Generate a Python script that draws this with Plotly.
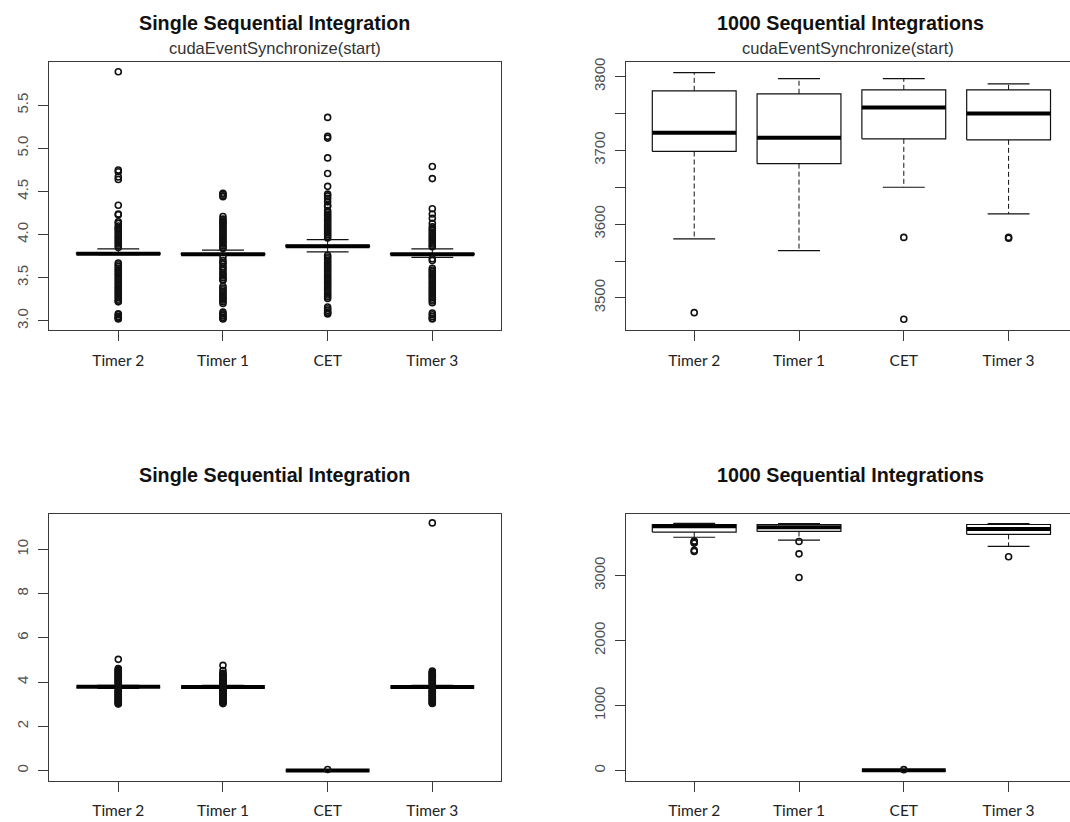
import plotly.graph_objects as go

categories = ["Timer 2", "Timer 1", "CET", "Timer 3"]

# ---- Single Sequential Integration, cudaEventSynchronize(start) ----
a_lower  = [3.768, 3.765, 3.800, 3.735]
a_q1     = [3.772, 3.768, 3.858, 3.768]
a_median = [3.777, 3.773, 3.865, 3.773]
a_q3     = [3.785, 3.780, 3.875, 3.780]
a_upper  = [3.835, 3.820, 3.942, 3.835]
a_out_timer2 = [5.89, 4.75, 4.73, 4.67, 4.64, 4.34, 4.24, 4.23, 4.15, 4.13, 4.10, 4.08,
                4.07, 4.05, 4.03, 4.01, 3.99, 3.97, 3.95, 3.93, 3.91, 3.89, 3.87, 3.85,
                3.67, 3.65, 3.63, 3.61, 3.59, 3.57, 3.55, 3.53, 3.51, 3.49, 3.47, 3.45,
                3.43, 3.41, 3.39, 3.37, 3.35, 3.33, 3.31, 3.29, 3.27, 3.25, 3.23, 3.22,
                3.08, 3.07, 3.05, 3.04, 3.03, 3.02]
a_out_timer1 = [4.48, 4.47, 4.45, 4.44, 4.21, 4.18, 4.16, 4.15, 4.13, 4.11, 4.09, 4.07,
                4.05, 4.03, 4.01, 3.99, 3.97, 3.95, 3.93, 3.91, 3.89, 3.87, 3.85, 3.84,
                3.74, 3.70, 3.68, 3.66, 3.63, 3.61, 3.59, 3.56, 3.54, 3.52, 3.50, 3.48,
                3.47, 3.40, 3.38, 3.36, 3.34, 3.32, 3.30, 3.28, 3.26, 3.24, 3.22, 3.20,
                3.10, 3.08, 3.06, 3.04, 3.03, 3.02]
a_out_cet = [5.36, 5.14, 5.12, 4.89, 4.71, 4.56, 4.47, 4.45, 4.42, 4.38, 4.34, 4.33,
             4.28, 4.26, 4.24, 4.22, 4.20, 4.18, 4.16, 4.14, 4.12, 4.10, 4.08, 4.06,
             4.04, 4.02, 4.00, 3.98, 3.96, 3.76, 3.74, 3.72, 3.70, 3.68, 3.66, 3.64,
             3.62, 3.60, 3.58, 3.56, 3.54, 3.52, 3.50, 3.48, 3.46, 3.44, 3.42, 3.40,
             3.38, 3.36, 3.34, 3.32, 3.30, 3.28, 3.26, 3.16, 3.14, 3.12, 3.10, 3.09, 3.08]
a_out_timer3 = [4.79, 4.65, 4.30, 4.24, 4.19, 4.13, 4.09, 4.07, 4.05, 4.03, 4.01, 3.99,
                3.97, 3.95, 3.93, 3.91, 3.89, 3.87, 3.86, 3.72, 3.70, 3.61, 3.59, 3.57,
                3.55, 3.53, 3.51, 3.49, 3.47, 3.45, 3.43, 3.41, 3.39, 3.37, 3.35, 3.33,
                3.31, 3.29, 3.27, 3.25, 3.23, 3.21, 3.09, 3.07, 3.05, 3.03, 3.02]

# ---- 1000 Sequential Integrations, cudaEventSynchronize(start) ----
b_lower  = [3580, 3564, 3650, 3614]
b_q1     = [3698.5, 3682, 3715.6, 3714.3]
b_median = [3724, 3717, 3758, 3750]
b_q3     = [3780.7, 3776.7, 3782, 3782]
b_upper  = [3805.4, 3797.3, 3797.3, 3790.2]
b_out_timer2 = [3480]
b_out_timer1 = []
b_out_cet = [3582, 3471]
b_out_timer3 = [3582, 3581]

# ---- Single Sequential Integration ----
c_lower  = [3.72, 3.72, 0.000, 3.72]
c_q1     = [3.77, 3.77, 0.005, 3.77]
c_median = [3.79, 3.78, 0.010, 3.78]
c_q3     = [3.80, 3.80, 0.015, 3.80]
c_upper  = [3.86, 3.85, 0.020, 3.85]
c_out_timer2 = [5.03, 4.62, 4.58, 4.54, 4.50, 4.46, 4.42, 4.38, 4.34, 4.30, 4.26, 4.22,
                4.18, 4.14, 4.10, 4.06, 4.02, 3.98, 3.94, 3.90, 3.66, 3.62, 3.58, 3.54,
                3.50, 3.46, 3.42, 3.38, 3.34, 3.30, 3.26, 3.22, 3.18, 3.14, 3.10, 3.06,
                3.03, 3.01]
c_out_timer1 = [4.76, 4.52, 4.40, 4.36, 4.32, 4.28, 4.24, 4.20, 4.16, 4.12, 4.08, 4.04,
                4.00, 3.96, 3.92, 3.88, 3.70, 3.66, 3.62, 3.58, 3.54, 3.50, 3.46, 3.42,
                3.38, 3.34, 3.30, 3.26, 3.22, 3.18, 3.14, 3.10, 3.06, 3.03]
c_out_cet = [0.05]
c_out_timer3 = [11.2, 4.50, 4.46, 4.42, 4.38, 4.34, 4.30, 4.26, 4.22, 4.18, 4.14, 4.10,
                4.06, 4.02, 3.98, 3.94, 3.90, 3.66, 3.62, 3.58, 3.54, 3.50, 3.46, 3.42,
                3.38, 3.34, 3.30, 3.26, 3.22, 3.18, 3.14, 3.10, 3.06, 3.04]

# ---- 1000 Sequential Integrations ----
d_lower  = [3590, 3545, 0, 3450]
d_q1     = [3670, 3679, 2, 3635]
d_median = [3758, 3742, 5, 3716]
d_q3     = [3786, 3786, 8, 3786]
d_upper  = [3805, 3801, 12, 3800]
d_out_timer2 = [3530, 3520, 3510, 3500, 3390, 3370]
d_out_timer1 = [3525, 3335, 2970]
d_out_cet = [15]
d_out_timer3 = [3290]

a_ticks = [3.0, 3.5, 4.0, 4.5, 5.0, 5.5]
a_ticktext = ["3.0", "3.5", "4.0", "4.5", "5.0", "5.5"]
b_ticks = [3500, 3550, 3600, 3650, 3700, 3750, 3800]
b_ticktext = ["3500", "", "3600", "", "3700", "", "3800"]
c_ticks = [0, 2, 4, 6, 8, 10]
c_ticktext = ["0", "2", "4", "6", "8", "10"]
d_ticks = [0, 1000, 2000, 3000]
d_ticktext = ["0", "1000", "2000", "3000"]

W, H = 1070, 822
BOX_HALF = 0.4
CAP_HALF = 0.2
INK = "#111111"
FRAME = "#3a3a3a"
TITLE_FONT = "Liberation Sans, Arial, sans-serif"
CAT_FONT = "Lato, Open Sans, sans-serif"

fig = go.Figure()


def add_boxplot(xa, ya, lower, q1, med, q3, upper, outliers):
    box_x, box_y = [], []
    wh_x, wh_y = [], []
    med_x, med_y = [], []
    out_x, out_y = [], []
    for i in range(len(categories)):
        p = i + 1
        # box outline
        box_x += [p - BOX_HALF, p + BOX_HALF, p + BOX_HALF, p - BOX_HALF, p - BOX_HALF, None]
        box_y += [q1[i], q1[i], q3[i], q3[i], q1[i], None]
        # staples
        box_x += [p - CAP_HALF, p + CAP_HALF, None, p - CAP_HALF, p + CAP_HALF, None]
        box_y += [upper[i], upper[i], None, lower[i], lower[i], None]
        # whiskers
        wh_x += [p, p, None, p, p, None]
        wh_y += [q3[i], upper[i], None, q1[i], lower[i], None]
        # median
        med_x += [p - BOX_HALF, p + BOX_HALF, None]
        med_y += [med[i], med[i], None]
        out_x += [p] * len(outliers[i])
        out_y += list(outliers[i])
    common = dict(xaxis=xa, yaxis=ya, showlegend=False, hoverinfo="skip")
    fig.add_trace(go.Scatter(x=wh_x, y=wh_y, mode="lines",
                             line=dict(color=INK, width=1, dash="5px,3px"), **common))
    fig.add_trace(go.Scatter(x=box_x, y=box_y, mode="lines",
                             line=dict(color=INK, width=1.2), **common))
    fig.add_trace(go.Scatter(x=med_x, y=med_y, mode="lines",
                             line=dict(color="#000000", width=4), **common))
    fig.add_trace(go.Scatter(x=out_x, y=out_y, mode="markers",
                             marker=dict(symbol="circle-open", size=6, color=INK,
                                         line=dict(width=1.6)), **common))


add_boxplot("x", "y", a_lower, a_q1, a_median, a_q3, a_upper,
            [a_out_timer2, a_out_timer1, a_out_cet, a_out_timer3])
add_boxplot("x2", "y2", b_lower, b_q1, b_median, b_q3, b_upper,
            [b_out_timer2, b_out_timer1, b_out_cet, b_out_timer3])
add_boxplot("x3", "y3", c_lower, c_q1, c_median, c_q3, c_upper,
            [c_out_timer2, c_out_timer1, c_out_cet, c_out_timer3])
add_boxplot("x4", "y4", d_lower, d_q1, d_median, d_q3, d_upper,
            [d_out_timer2, d_out_timer1, d_out_cet, d_out_timer3])


def xaxis_cfg(left_px, right_px, xrange, anchor, mirror=True):
    return dict(domain=[left_px / W, right_px / W], range=xrange, anchor=anchor,
                tickmode="array", tickvals=[1, 2, 3, 4], ticktext=categories,
                ticks="outside", ticklen=10, tickwidth=1, tickcolor=FRAME,
                showline=True, linecolor=FRAME, linewidth=1.2, mirror=mirror,
                showgrid=False, zeroline=False, fixedrange=True,
                ticklabelstandoff=6,
                tickfont=dict(family=CAT_FONT, size=15.5, color="#222222"))


def yaxis_cfg(top_px, bottom_px, yrange, anchor, tv, tt, mirror=True):
    return dict(domain=[1 - bottom_px / H, 1 - top_px / H], range=yrange, anchor=anchor,
                tickmode="array", tickvals=tv, ticktext=tt, tickangle=-90,
                ticks="outside", ticklen=10, tickwidth=1, tickcolor=FRAME,
                showline=True, linecolor=FRAME, linewidth=1.2, mirror=mirror,
                showgrid=False, zeroline=False, fixedrange=True,
                ticklabelstandoff=4,
                tickfont=dict(family=TITLE_FONT, size=15, color="#505050"))


fig.update_layout(
    width=W, height=H, autosize=False,
    margin=dict(l=0, r=0, t=0, b=0),
    paper_bgcolor="white", plot_bgcolor="white",
    xaxis=xaxis_cfg(49, 501.4, [0.338, 4.66], "y"),
    yaxis=yaxis_cfg(57.7, 327, [2.893, 5.999], "x", a_ticks, a_ticktext),
    xaxis2=xaxis_cfg(626, 1070, [0.349, 4.586], "y2"),
    yaxis2=yaxis_cfg(57.7, 327, [3456.5, 3819.3], "x2", b_ticks, b_ticktext, mirror=False),
    xaxis3=xaxis_cfg(49, 501.4, [0.338, 4.66], "y3"),
    yaxis3=yaxis_cfg(511.7, 780.3, [-0.449, 11.62], "x3", c_ticks, c_ticktext),
    xaxis4=xaxis_cfg(626, 1070, [0.349, 4.586], "y4"),
    yaxis4=yaxis_cfg(511.7, 780.3, [-153, 3954], "x4", d_ticks, d_ticktext, mirror=False),
)


def add_text(text, cx, cy, size, bold, color="#111111"):
    fig.add_annotation(text=f"<b>{text}</b>" if bold else text,
                       x=cx / W, y=1 - cy / H, xref="paper", yref="paper",
                       xanchor="center", yanchor="middle", showarrow=False,
                       font=dict(family=TITLE_FONT, size=size, color=color))


add_text("Single Sequential Integration", 275, 18.2, 19.7, True)
add_text("cudaEventSynchronize(start)", 275, 43.6, 16.5, False, "#333333")
add_text("1000 Sequential Integrations", 850, 18.2, 19.7, True)
add_text("cudaEventSynchronize(start)", 848, 43.6, 16.5, False, "#333333")
add_text("Single Sequential Integration", 275, 472.5, 19.7, True)
add_text("1000 Sequential Integrations", 850, 472.5, 19.7, True)

fig.write_html("out.html")
